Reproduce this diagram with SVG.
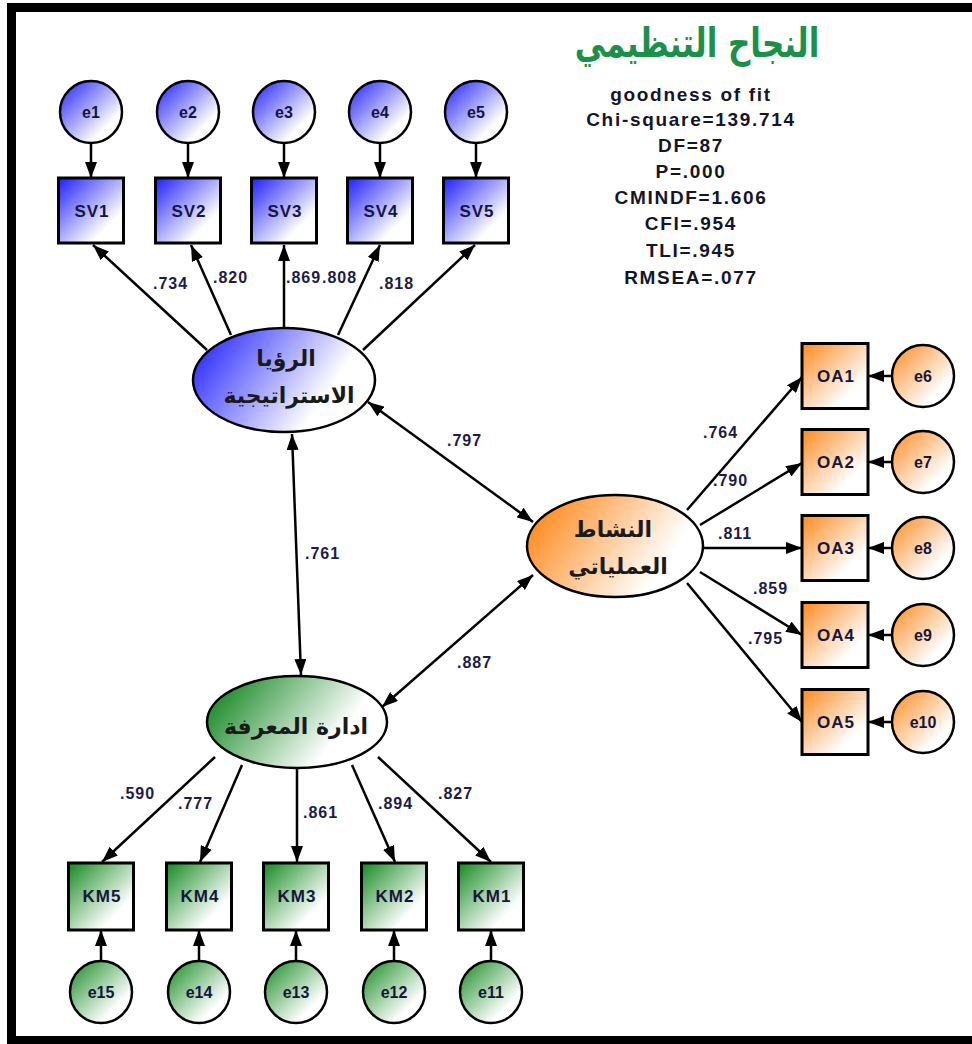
<svg xmlns="http://www.w3.org/2000/svg" width="972" height="1044" viewBox="0 0 972 1044">
<defs>
<style>
.frame{fill:none;stroke:#000;stroke-width:9}
.box{stroke:#000;stroke-width:3}
.circ{stroke:#000;stroke-width:2.5}
.ell{stroke:#000;stroke-width:2.5}
.p{stroke:#000;stroke-width:2.5;fill:none}
.nl{font-family:"Liberation Sans",Arial,sans-serif;font-weight:bold;font-size:16px;fill:#16163a;text-anchor:middle}
.bl{font-family:"Liberation Sans",Arial,sans-serif;font-weight:bold;font-size:17px;letter-spacing:1px;fill:#16163a;text-anchor:middle}
.cf{font-family:"Liberation Sans",Arial,sans-serif;font-weight:bold;font-size:16px;letter-spacing:1px;fill:#1c1c46}
.fit{font-family:"Liberation Sans",Arial,sans-serif;font-weight:bold;font-size:19px;letter-spacing:1.7px;fill:#15152a;text-anchor:middle}
.ar{font-family:"DejaVu Sans",sans-serif;font-weight:bold;font-size:22px;fill:#1a1a1a;text-anchor:middle}
.title{font-family:"DejaVu Sans",sans-serif;font-weight:bold;font-size:31px;fill:#1b9048;text-anchor:middle}
</style>
<linearGradient id="gb" x1="0" y1="0" x2="1" y2="1"><stop offset="0" stop-color="#1e1eff"/><stop offset="0.75" stop-color="#ffffff"/></linearGradient>
<linearGradient id="gbe" x1="0" y1="0.3" x2="1" y2="0.7"><stop offset="0" stop-color="#3030ff"/><stop offset="0.75" stop-color="#ffffff"/></linearGradient>
<linearGradient id="go" x1="0" y1="0" x2="1" y2="1"><stop offset="0" stop-color="#ff8a1e"/><stop offset="0.75" stop-color="#ffffff"/></linearGradient>
<linearGradient id="goe" x1="0" y1="0.3" x2="1" y2="0.7"><stop offset="0" stop-color="#ff8a1e"/><stop offset="0.8" stop-color="#ffffff"/></linearGradient>
<linearGradient id="gg" x1="0" y1="0" x2="1" y2="1"><stop offset="0" stop-color="#138a20"/><stop offset="0.75" stop-color="#ffffff"/></linearGradient>
<linearGradient id="gge" x1="0" y1="0.3" x2="1" y2="0.7"><stop offset="0" stop-color="#1a8a28"/><stop offset="0.75" stop-color="#ffffff"/></linearGradient>
<marker id="ah" viewBox="0 0 16 12" refX="16" refY="6" markerWidth="16" markerHeight="12" markerUnits="userSpaceOnUse" orient="auto-start-reverse"><path d="M0,0 L16,6 L0,12 z" fill="#000"/></marker>
</defs>
<rect width="972" height="1044" fill="#fff"/>
<rect class="frame" x="11.5" y="7.5" width="975" height="1033"/>

<g id="title">
<text class="title" x="697" y="57" transform="translate(0 57) scale(1 1.3) translate(0 -57)">النجاح التنظيمي</text>
</g>
<g id="fit">
<text class="fit" x="691" y="101">goodness of fit</text>
<text class="fit" x="691" y="126">Chi-square=139.714</text>
<text class="fit" x="691" y="152">DF=87</text>
<text class="fit" x="691" y="178">P=.000</text>
<text class="fit" x="691" y="204">CMINDF=1.606</text>
<text class="fit" x="691" y="230">CFI=.954</text>
<text class="fit" x="691" y="257">TLI=.945</text>
<text class="fit" x="691" y="284">RMSEA=.077</text>
</g>

<g id="connectors">
<line class="p" x1="91" y1="143" x2="91" y2="178" marker-end="url(#ah)"/>
<line class="p" x1="188" y1="143" x2="188" y2="178" marker-end="url(#ah)"/>
<line class="p" x1="284" y1="143" x2="284" y2="178" marker-end="url(#ah)"/>
<line class="p" x1="380" y1="143" x2="380" y2="178" marker-end="url(#ah)"/>
<line class="p" x1="476" y1="143" x2="476" y2="178" marker-end="url(#ah)"/>
<line class="p" x1="207" y1="350" x2="93" y2="245" marker-end="url(#ah)"/>
<line class="p" x1="231" y1="335" x2="191" y2="245" marker-end="url(#ah)"/>
<line class="p" x1="284" y1="328" x2="284" y2="245" marker-end="url(#ah)"/>
<line class="p" x1="338" y1="335" x2="380" y2="245" marker-end="url(#ah)"/>
<line class="p" x1="363" y1="350" x2="475" y2="245" marker-end="url(#ah)"/>
<line class="p" x1="368" y1="402" x2="533" y2="522" marker-start="url(#ah)" marker-end="url(#ah)"/>
<line class="p" x1="292" y1="434" x2="301" y2="675" marker-start="url(#ah)" marker-end="url(#ah)"/>
<line class="p" x1="382" y1="707" x2="533" y2="575" marker-start="url(#ah)" marker-end="url(#ah)"/>
<line class="p" x1="687" y1="510" x2="802" y2="377" marker-end="url(#ah)"/>
<line class="p" x1="700" y1="525" x2="802" y2="463" marker-end="url(#ah)"/>
<line class="p" x1="703" y1="548" x2="802" y2="548" marker-end="url(#ah)"/>
<line class="p" x1="700" y1="572" x2="802" y2="635" marker-end="url(#ah)"/>
<line class="p" x1="687" y1="583" x2="802" y2="722" marker-end="url(#ah)"/>
<line class="p" x1="892" y1="376" x2="868" y2="376" marker-end="url(#ah)"/>
<line class="p" x1="892" y1="462" x2="868" y2="462" marker-end="url(#ah)"/>
<line class="p" x1="892" y1="548" x2="868" y2="548" marker-end="url(#ah)"/>
<line class="p" x1="892" y1="635" x2="868" y2="635" marker-end="url(#ah)"/>
<line class="p" x1="892" y1="722" x2="868" y2="722" marker-end="url(#ah)"/>
<line class="p" x1="215" y1="757" x2="102" y2="862" marker-end="url(#ah)"/>
<line class="p" x1="242" y1="765" x2="200" y2="862" marker-end="url(#ah)"/>
<line class="p" x1="297" y1="768" x2="297" y2="862" marker-end="url(#ah)"/>
<line class="p" x1="352" y1="765" x2="395" y2="862" marker-end="url(#ah)"/>
<line class="p" x1="378" y1="757" x2="491" y2="862" marker-end="url(#ah)"/>
<line class="p" x1="101" y1="961" x2="101" y2="930" marker-end="url(#ah)"/>
<line class="p" x1="199" y1="961" x2="199" y2="930" marker-end="url(#ah)"/>
<line class="p" x1="296" y1="961" x2="296" y2="930" marker-end="url(#ah)"/>
<line class="p" x1="394" y1="961" x2="394" y2="930" marker-end="url(#ah)"/>
<line class="p" x1="491" y1="961" x2="491" y2="930" marker-end="url(#ah)"/>
</g>

<g id="coefficients">
<text class="cf" x="153" y="289">.734</text>
<text class="cf" x="213" y="283">.820</text>
<text class="cf" x="286" y="283">.869</text>
<text class="cf" x="322" y="283">.808</text>
<text class="cf" x="379" y="289">.818</text>
<text class="cf" x="447" y="446">.797</text>
<text class="cf" x="305" y="559">.761</text>
<text class="cf" x="457" y="668">.887</text>
<text class="cf" x="703" y="438">.764</text>
<text class="cf" x="713" y="486">.790</text>
<text class="cf" x="718" y="539">.811</text>
<text class="cf" x="753" y="594">.859</text>
<text class="cf" x="748" y="644">.795</text>
<text class="cf" x="120" y="799">.590</text>
<text class="cf" x="178" y="809">.777</text>
<text class="cf" x="303" y="818">.861</text>
<text class="cf" x="378" y="809">.894</text>
<text class="cf" x="438" y="799">.827</text>
</g>

<g id="e1"><circle class="circ" cx="91" cy="112" r="31" fill="url(#gb)"/><text class="nl" x="91" y="118">e1</text></g>
<g id="e2"><circle class="circ" cx="188" cy="112" r="31" fill="url(#gb)"/><text class="nl" x="188" y="118">e2</text></g>
<g id="e3"><circle class="circ" cx="284" cy="112" r="31" fill="url(#gb)"/><text class="nl" x="284" y="118">e3</text></g>
<g id="e4"><circle class="circ" cx="380" cy="112" r="31" fill="url(#gb)"/><text class="nl" x="380" y="118">e4</text></g>
<g id="e5"><circle class="circ" cx="476" cy="112" r="31" fill="url(#gb)"/><text class="nl" x="476" y="118">e5</text></g>

<g id="SV1"><rect class="box" x="58.5" y="178" width="65" height="65" fill="url(#gb)"/><text class="bl" x="92" y="217">SV1</text></g>
<g id="SV2"><rect class="box" x="155.5" y="178" width="65" height="65" fill="url(#gb)"/><text class="bl" x="189" y="217">SV2</text></g>
<g id="SV3"><rect class="box" x="251.5" y="178" width="65" height="65" fill="url(#gb)"/><text class="bl" x="285" y="217">SV3</text></g>
<g id="SV4"><rect class="box" x="347.5" y="178" width="65" height="65" fill="url(#gb)"/><text class="bl" x="381" y="217">SV4</text></g>
<g id="SV5"><rect class="box" x="443.5" y="178" width="65" height="65" fill="url(#gb)"/><text class="bl" x="477" y="217">SV5</text></g>

<g id="vision"><ellipse class="ell" cx="284" cy="380" rx="91" ry="52" fill="url(#gbe)"/>
<text class="ar" x="286" y="366">الرؤيا</text><text class="ar" x="289" y="403">الاستراتيجية</text></g>

<g id="operations"><ellipse class="ell" cx="615" cy="546" rx="88" ry="51" fill="url(#goe)"/>
<text class="ar" x="613" y="537">النشاط</text><text class="ar" x="618" y="574">العملياتي</text></g>

<g id="knowledge"><ellipse class="ell" cx="297" cy="722" rx="90" ry="46" fill="url(#gge)"/>
<text class="ar" x="296" y="734">ادارة المعرفة</text></g>

<g id="OA1"><rect class="box" x="802" y="343.5" width="66" height="65" fill="url(#go)"/><text class="bl" x="836" y="382">OA1</text></g>
<g id="OA2"><rect class="box" x="802" y="429.5" width="66" height="65" fill="url(#go)"/><text class="bl" x="836" y="468">OA2</text></g>
<g id="OA3"><rect class="box" x="802" y="515.5" width="66" height="65" fill="url(#go)"/><text class="bl" x="836" y="554">OA3</text></g>
<g id="OA4"><rect class="box" x="802" y="602.5" width="66" height="65" fill="url(#go)"/><text class="bl" x="836" y="641">OA4</text></g>
<g id="OA5"><rect class="box" x="802" y="689.5" width="66" height="65" fill="url(#go)"/><text class="bl" x="836" y="728">OA5</text></g>

<g id="e6"><circle class="circ" cx="923" cy="376" r="31" fill="url(#go)"/><text class="nl" x="923" y="382">e6</text></g>
<g id="e7"><circle class="circ" cx="923" cy="462" r="31" fill="url(#go)"/><text class="nl" x="923" y="468">e7</text></g>
<g id="e8"><circle class="circ" cx="923" cy="548" r="31" fill="url(#go)"/><text class="nl" x="923" y="554">e8</text></g>
<g id="e9"><circle class="circ" cx="923" cy="635" r="31" fill="url(#go)"/><text class="nl" x="923" y="641">e9</text></g>
<g id="e10"><circle class="circ" cx="923" cy="722" r="31" fill="url(#go)"/><text class="nl" x="923" y="728">e10</text></g>

<g id="KM5"><rect class="box" x="68.5" y="863" width="65" height="67" fill="url(#gg)"/><text class="bl" x="102" y="902">KM5</text></g>
<g id="KM4"><rect class="box" x="166.5" y="863" width="65" height="67" fill="url(#gg)"/><text class="bl" x="200" y="902">KM4</text></g>
<g id="KM3"><rect class="box" x="263.5" y="863" width="65" height="67" fill="url(#gg)"/><text class="bl" x="297" y="902">KM3</text></g>
<g id="KM2"><rect class="box" x="361.5" y="863" width="65" height="67" fill="url(#gg)"/><text class="bl" x="395" y="902">KM2</text></g>
<g id="KM1"><rect class="box" x="458.5" y="863" width="65" height="67" fill="url(#gg)"/><text class="bl" x="492" y="902">KM1</text></g>

<g id="e15"><circle class="circ" cx="101" cy="992" r="31" fill="url(#gg)"/><text class="nl" x="101" y="998">e15</text></g>
<g id="e14"><circle class="circ" cx="199" cy="992" r="31" fill="url(#gg)"/><text class="nl" x="199" y="998">e14</text></g>
<g id="e13"><circle class="circ" cx="296" cy="992" r="31" fill="url(#gg)"/><text class="nl" x="296" y="998">e13</text></g>
<g id="e12"><circle class="circ" cx="394" cy="992" r="31" fill="url(#gg)"/><text class="nl" x="394" y="998">e12</text></g>
<g id="e11"><circle class="circ" cx="491" cy="992" r="31" fill="url(#gg)"/><text class="nl" x="491" y="998">e11</text></g>
</svg>
